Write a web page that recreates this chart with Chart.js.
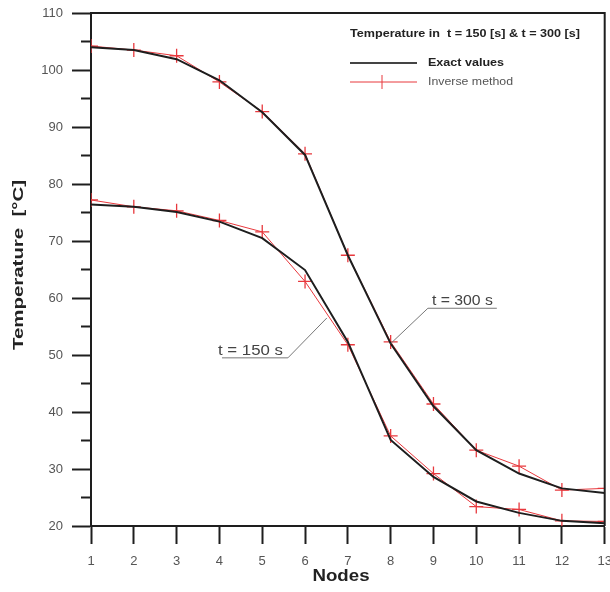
<!DOCTYPE html>
<html>
<head>
<meta charset="utf-8">
<script src="https://cdn.jsdelivr.net/npm/chart.js@4"></script>
<style>
  body { margin: 0; background: #fff; overflow: hidden; }
  #wrap { width: 610px; height: 592px; overflow: hidden; }
</style>
</head>
<body>
<!-- canvas is a little wider than the window so the last x label is cut off at the edge -->
<div id="wrap"><canvas id="tempChart" width="613" height="592"></canvas></div>
<script>
// values
const nodes = [1, 2, 3, 4, 5, 6, 7, 8, 9, 10, 11, 12, 13];
const exact150 = [76.4, 76.0, 75.1, 73.4, 70.5, 64.9, 52.3, 35.1, 28.6, 24.3, 22.3, 20.9, 20.5];
const inverse150 = [77.2, 76.0, 75.3, 73.6, 71.6, 62.9, 51.8, 35.8, 29.2, 23.4, 22.9, 20.9, 20.8];
const exact300 = [104.0, 103.5, 101.9, 98.2, 92.6, 85.1, 67.5, 52.0, 41.0, 33.3, 29.2, 26.6, 25.8];
const inverse300 = [104.2, 103.5, 102.5, 97.9, 92.7, 85.3, 67.5, 52.3, 41.4, 33.3, 30.5, 26.3, 26.6];
const yTicks = [20, 30, 40, 50, 60, 70, 80, 90, 100, 110];
const yMinorTicks = [25, 35, 45, 55, 65, 75, 85, 95, 105];

const legendTitle = 'Temperature in  t = 150 [s] & t = 300 [s]';
const exactLabel = 'Exact values';
const inverseLabel = 'Inverse method';
const xTitle = 'Nodes';
const yTitle = 'Temperature  [°C]';

const BLACK = '#1e1e1e';
const RED = '#e8383d';
const FONT = '"Liberation Sans", Arial, sans-serif';

const toPoints = (arr) => arr.map((v, i) => ({x: nodes[i], y: v}));

function exactSet(arr) {
    return {
        label: exactLabel,
        data: toPoints(arr),
        borderColor: BLACK,
        borderWidth: 2,
        pointRadius: 0,
        tension: 0,
        fill: false,
        order: 1,
    };
}

function inverseSet(arr) {
    return {
        label: inverseLabel,
        data: toPoints(arr),
        borderColor: RED,
        borderWidth: 1,
        pointStyle: 'cross',
        pointRadius: 7,
        pointBorderWidth: 1.3,
        pointBorderColor: RED,
        tension: 0,
        fill: false,
        order: 2,
    };
}

// the scanned text is wider than normal, so stretch it to the width seen
function fitText(ctx, text, x, y, font, width, align, angle) {
    ctx.save();
    ctx.font = font;
    const sx = width / ctx.measureText(text).width;
    ctx.translate(x, y);
    if (angle) ctx.rotate(angle);
    ctx.scale(sx, 1);
    ctx.textAlign = align;
    ctx.fillText(text, 0, 0);
    ctx.restore();
}

// frame, minor ticks, titles, legend and curve labels
const extras = {
    id: 'extras',
    afterDraw(chart) {
        const {ctx, chartArea: a, scales: {x, y}} = chart;
        ctx.save();

        ctx.strokeStyle = BLACK;
        ctx.lineWidth = 2;
        ctx.beginPath();
        ctx.moveTo(a.left, a.top);
        ctx.lineTo(a.right, a.top);
        ctx.lineTo(a.right, a.bottom);
        ctx.stroke();

        ctx.beginPath();
        yMinorTicks.forEach(v => {
            const py = y.getPixelForValue(v);
            ctx.moveTo(a.left - 10, py);
            ctx.lineTo(a.left, py);
        });
        ctx.stroke();

        // axis titles
        ctx.fillStyle = '#222';
        ctx.textBaseline = 'middle';
        fitText(ctx, xTitle, 341, 577, 'bold 16px ' + FONT, 57, 'center');
        fitText(ctx, yTitle, 19, 265, 'bold 15px ' + FONT, 170, 'center', -Math.PI / 2);

        // legend
        fitText(ctx, legendTitle, 350, 34, 'bold 10.5px ' + FONT, 230, 'left');

        ctx.strokeStyle = '#444';
        ctx.lineWidth = 2;
        ctx.beginPath();
        ctx.moveTo(350, 63);
        ctx.lineTo(417, 63);
        ctx.stroke();
        fitText(ctx, exactLabel, 428, 63, 'bold 11px ' + FONT, 76, 'left');

        ctx.strokeStyle = RED;
        ctx.lineWidth = 1;
        ctx.beginPath();
        ctx.moveTo(350, 82);
        ctx.lineTo(417, 82);
        ctx.moveTo(382, 75);
        ctx.lineTo(382, 89);
        ctx.stroke();
        ctx.fillStyle = '#555';
        fitText(ctx, inverseLabel, 428, 82, '11px ' + FONT, 85, 'left');

        // curve labels with leader lines
        ctx.strokeStyle = '#777';
        ctx.lineWidth = 1;
        ctx.fillStyle = '#444';
        ctx.textBaseline = 'alphabetic';

        let ux1 = x.getPixelForValue(8.87), ux2 = x.getPixelForValue(10.48), uy = y.getPixelForValue(58.2);
        ctx.beginPath();
        ctx.moveTo(ux2, uy);
        ctx.lineTo(ux1, uy);
        ctx.lineTo(x.getPixelForValue(8), y.getPixelForValue(exact300[7]));
        ctx.stroke();
        fitText(ctx, 't = 300 s', ux1 + 4, uy - 3, '14px ' + FONT, 61, 'left');

        ux1 = x.getPixelForValue(4.06); ux2 = x.getPixelForValue(5.6); uy = y.getPixelForValue(49.5);
        ctx.beginPath();
        ctx.moveTo(ux1, uy);
        ctx.lineTo(ux2, uy);
        ctx.lineTo(x.getPixelForValue(6.51), y.getPixelForValue(56.5));
        ctx.stroke();
        fitText(ctx, 't = 150 s', ux1 - 4, uy - 3, '14px ' + FONT, 65, 'left');

        ctx.restore();
    }
};

const tickFont = {family: FONT, size: 13};

const ctx = document.getElementById('tempChart').getContext('2d');
const tempChart = new Chart(ctx, {
    type: 'line',
    data: {
        datasets: [
            exactSet(exact300),
            exactSet(exact150),
            inverseSet(inverse300),
            inverseSet(inverse150),
        ]
    },
    options: {
        responsive: false,
        animation: false,
        devicePixelRatio: 1,
        layout: {padding: {top: 13, right: 2, left: 0, bottom: 0}},
        plugins: {
            legend: {display: false},
            tooltip: {enabled: false},
        },
        scales: {
            x: {
                type: 'linear',
                min: 1,
                max: 13,
                afterBuildTicks: (scale) => { scale.ticks = nodes.map(v => ({value: v})); },
                ticks: {color: '#555', font: tickFont, padding: 10, maxRotation: 0, autoSkip: false},
                grid: {drawOnChartArea: false, tickLength: 18, tickColor: BLACK, tickWidth: 2},
                border: {color: BLACK, width: 2},
                afterFit: (scale) => { scale.height = 66; scale.paddingRight = 0; scale.paddingLeft = 0; },
            },
            y: {
                min: 20,
                max: 110,
                afterBuildTicks: (scale) => { scale.ticks = yTicks.map(v => ({value: v})); },
                ticks: {color: '#555', font: tickFont, padding: 9},
                grid: {drawOnChartArea: false, tickLength: 19, tickColor: BLACK, tickWidth: 2},
                border: {color: BLACK, width: 2},
                afterFit: (scale) => { scale.width = 91; scale.paddingTop = 0; scale.paddingBottom = 0; },
            }
        }
    },
    plugins: [extras]
});
</script>
</body>
</html>
